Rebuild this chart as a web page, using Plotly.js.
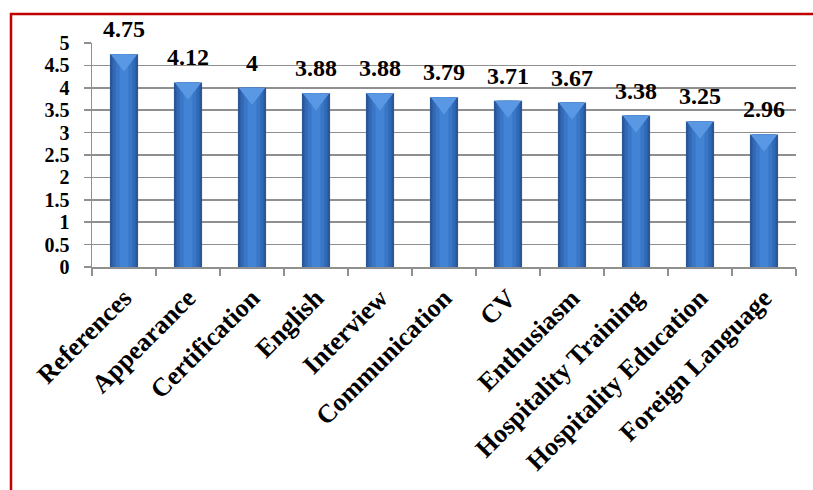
<!DOCTYPE html>
<html>
<head>
<meta charset="utf-8">
<script src="https://cdn.plot.ly/plotly-3.0.1.min.js"></script>
<style>
  html, body { margin: 0; padding: 0; background: #ffffff; }
  #chart { width: 813px; height: 490px; }
</style>
</head>
<body>
<div id="chart"></div>
<script>
// Mean rating per hiring criterion
const criteria = ['References', 'Appearance', 'Certification', 'English', 'Interview',
  'Communication', 'CV', 'Enthusiasm', 'Hospitality Training', 'Hospitality Education',
  'Foreign Language'];
const scores = [4.75, 4.12, 4, 3.88, 3.88, 3.79, 3.71, 3.67, 3.38, 3.25, 2.96];
const yTicks = [0, 0.5, 1, 1.5, 2, 2.5, 3, 3.5, 4, 4.5, 5];

const serif = 'Liberation Serif, Times New Roman, serif';
const W = 813, H = 490;
const M = { l: 92, r: 17, t: 43, b: 223 };
const plotW = W - M.l - M.r, plotH = H - M.t - M.b;
const yMax = 5;

// Cylinder-like shading: stacked overlay bars, narrower and lighter toward the middle
const shades = [
  { width: 0.44, color: '#28579a' },
  { width: 0.36, color: '#3268b5' },
  { width: 0.26, color: '#3a76c6' },
  { width: 0.14, color: '#4283d4' }
];
const traces = shades.map(s => ({
  type: 'bar', x: criteria, y: scores, width: s.width,
  marker: { color: s.color, line: { width: 0 } },
  hoverinfo: 'skip', showlegend: false
}));

// Bevelled cap on each bar, on a twin axis shifted so the cap hangs from the bar top
const capSize = 23;
const capShift = (capSize / 4) / plotH * yMax;
traces.push({
  type: 'scatter', mode: 'markers', x: criteria, y: scores, yaxis: 'y2',
  marker: { symbol: 'triangle-down', size: capSize, color: '#5b98e3',
            line: { width: 0 } },
  hoverinfo: 'skip', showlegend: false, cliponaxis: false
});

const valueLabels = criteria.map((c, i) => ({
  x: c, y: scores[i], text: String(scores[i]),
  xref: 'x', yref: 'y', showarrow: false, yanchor: 'bottom', yshift: 10,
  font: { family: serif, size: 24, color: '#000000', weight: 'bold' }
}));

const gridGray = '#8f8f8f';
const layout = {
  width: W, height: H,
  margin: M,
  paper_bgcolor: '#ffffff', plot_bgcolor: '#ffffff',
  barmode: 'overlay',
  font: { family: serif, color: '#000000' },
  xaxis: {
    type: 'category', range: [-0.5, criteria.length - 0.5], tickson: 'boundaries',
    ticks: 'outside', ticklen: 7, tickcolor: gridGray, tickwidth: 1.5,
    showline: true, linecolor: gridGray, linewidth: 1.5,
    showgrid: false, tickangle: -45, ticklabelstandoff: 4,
    tickfont: { family: serif, size: 26, color: '#000000', weight: 'bold' }
  },
  yaxis: {
    range: [0, yMax], tickvals: yTicks, ticktext: yTicks.map(String),
    ticks: 'outside', ticklen: 7, tickcolor: gridGray, tickwidth: 1.5,
    showline: true, linecolor: gridGray, linewidth: 1.5,
    showgrid: true, gridcolor: gridGray, gridwidth: 1.5, zeroline: false,
    ticklabelstandoff: 10,
    tickfont: { family: serif, size: 20, color: '#000000', weight: 'bold' }
  },
  yaxis2: {
    overlaying: 'y', range: [capShift, yMax + capShift], visible: false
  },
  annotations: valueLabels,
  shapes: [{
    type: 'rect', xref: 'paper', yref: 'paper', layer: 'above',
    x0: (11 - M.l) / plotW, x1: (W + 5 - M.l) / plotW,
    y0: (M.t + plotH - (H + 5)) / plotH, y1: (M.t + plotH - 14) / plotH,
    line: { color: '#c00000', width: 2.5 }, fillcolor: 'rgba(0,0,0,0)'
  }]
};

Plotly.newPlot('chart', traces, layout, { displayModeBar: false, staticPlot: true });
</script>
</body>
</html>
